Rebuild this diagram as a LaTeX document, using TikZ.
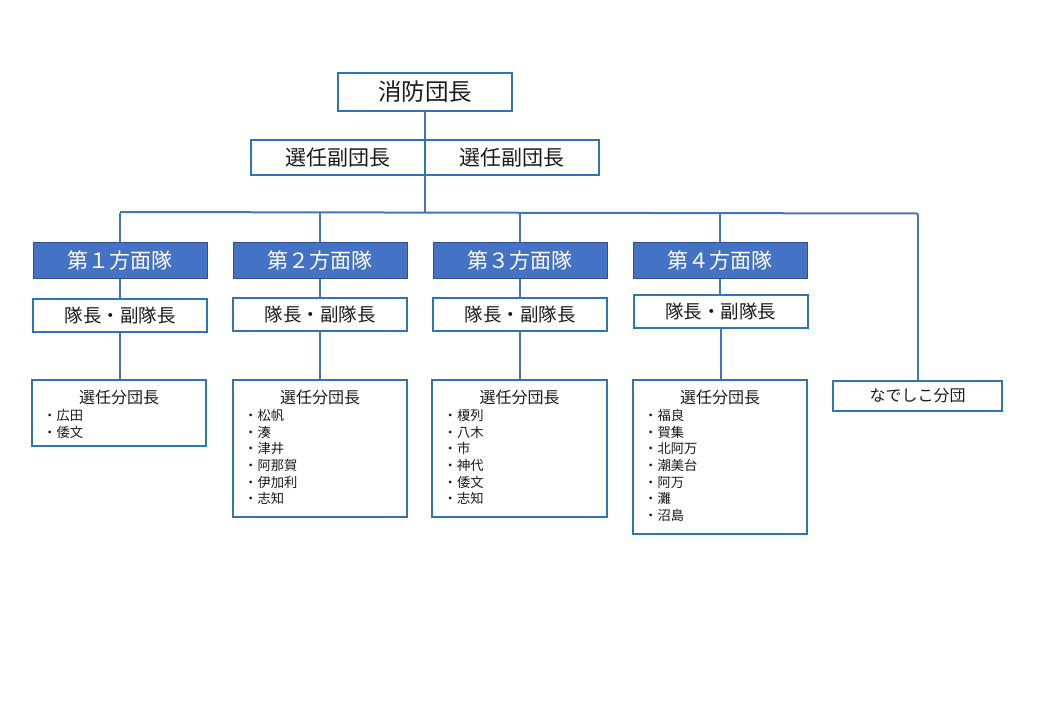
\documentclass[tikz,border=0pt]{standalone}
\usepackage{fontspec}
\setmainfont{Noto Sans CJK JP}
\usetikzlibrary{backgrounds}
\definecolor{bdr}{HTML}{2E75B6}
\definecolor{lineblue}{HTML}{4472C4}
\definecolor{divfill}{HTML}{4472C4}
\definecolor{divbdr}{HTML}{2F528F}
\definecolor{txt}{HTML}{1A1A1A}
\tikzset{
  wbox/.style={draw=bdr, line width=2pt, fill=white, inner sep=0pt, text=txt},
  divbox/.style={draw=divbdr, line width=1pt, fill=divfill, inner sep=0pt, text=white,
    minimum width=174pt, minimum height=36.5pt, font=\fontsize{21}{24}\selectfont},
  leadbox/.style={wbox, minimum width=174pt, minimum height=33pt, font=\fontsize{18.5}{22}\selectfont},
  conn/.style={draw=lineblue, line width=2pt},
  ttl/.style={inner sep=0pt, text=txt, font=\fontsize{16}{19}\selectfont},
  items/.style={inner sep=0pt, text=txt, align=left, anchor=north west, font=\fontsize{13.3}{16.67}\selectfont},
}
\begin{document}
\begin{tikzpicture}[x=1pt,y=-1pt]
\useasboundingbox (0,0) rectangle (1040,720);
% top
\node[wbox, minimum width=174pt, minimum height=38pt, font=\fontsize{23.5}{27}\selectfont] (chief) at (425,91.5) {消防団長};
\node[wbox, minimum width=174pt, minimum height=35pt, font=\fontsize{21}{24}\selectfont] (vL) at (338,157.5) {選任副団長};
\node[wbox, minimum width=174pt, minimum height=35pt, font=\fontsize{21}{24}\selectfont] (vR) at (512,157.5) {選任副団長};
\coordinate (bus) at (425,212.5);
\coordinate (busL) at (120,212);
\coordinate (busR) at (918,213.5);
% divisions
\node[divbox] (d1) at (120,260.5) {第１方面隊};
\node[divbox] (d2) at (320,260.5) {第２方面隊};
\node[divbox] (d3) at (520,260.5) {第３方面隊};
\node[divbox] (d4) at (720,260.5) {第４方面隊};
% leaders
\node[leadbox] (l1) at (120,315.5) {隊長・副隊長};
\node[leadbox] (l2) at (320,314.5) {隊長・副隊長};
\node[leadbox] (l3) at (520,314) {隊長・副隊長};
\node[leadbox] (l4) at (720.5,311.5) {隊長・副隊長};
% bottom boxes
\node[wbox, minimum width=174pt, minimum height=66pt] (b1) at (119,413) {};
\node[wbox, minimum width=174pt, minimum height=137pt] (b2) at (320,448.5) {};
\node[wbox, minimum width=175pt, minimum height=137pt] (b3) at (519.5,448.5) {};
\node[wbox, minimum width=174pt, minimum height=154pt] (b4) at (720,457) {};
\node[wbox, minimum width=169pt, minimum height=30pt, font=\fontsize{16}{19}\selectfont] (nd) at (917.5,395.5) {なでしこ分団};
% titles
\node[ttl] (b1t) at (119,397.5) {選任分団長};
\node[ttl] (b2t) at (320,397.5) {選任分団長};
\node[ttl] (b3t) at (519.5,397.5) {選任分団長};
\node[ttl] (b4t) at (720,397.5) {選任分団長};
% items
\node[items] (b1i) at (43,409) {・広田\\・倭文};
\node[items] (b2i) at (244,409) {・松帆\\・湊\\・津井\\・阿那賀\\・伊加利\\・志知};
\node[items] (b3i) at (443.5,409) {・榎列\\・八木\\・市\\・神代\\・倭文\\・志知};
\node[items] (b4i) at (644,409) {・福良\\・賀集\\・北阿万\\・潮美台\\・阿万\\・灘\\・沼島};
% connectors
\begin{scope}[on background layer]
\draw[conn] (chief.south) -- (bus);
\draw[conn] (busL) -- (busR);
\draw[conn] (d1.north) -- (d1.north |- bus);
\draw[conn] (d2.north) -- (d2.north |- bus);
\draw[conn] (d3.north) -- (d3.north |- bus);
\draw[conn] (d4.north) -- (d4.north |- bus);
\draw[conn] (nd.north) -- (nd.north |- busR);
\draw[conn] (d1.south) -- (d1.south |- l1.north);
\draw[conn] (d2.south) -- (d2.south |- l2.north);
\draw[conn] (d3.south) -- (d3.south |- l3.north);
\draw[conn] (d4.south) -- (d4.south |- l4.north);
\draw[conn] (l1.south) -- (l1.south |- b1.north);
\draw[conn] (l2.south) -- (l2.south |- b2.north);
\draw[conn] (l3.south) -- (l3.south |- b3.north);
\draw[conn] (l4.south) -- (l4.south |- b4.north);
\end{scope}
\end{tikzpicture}
\end{document}
